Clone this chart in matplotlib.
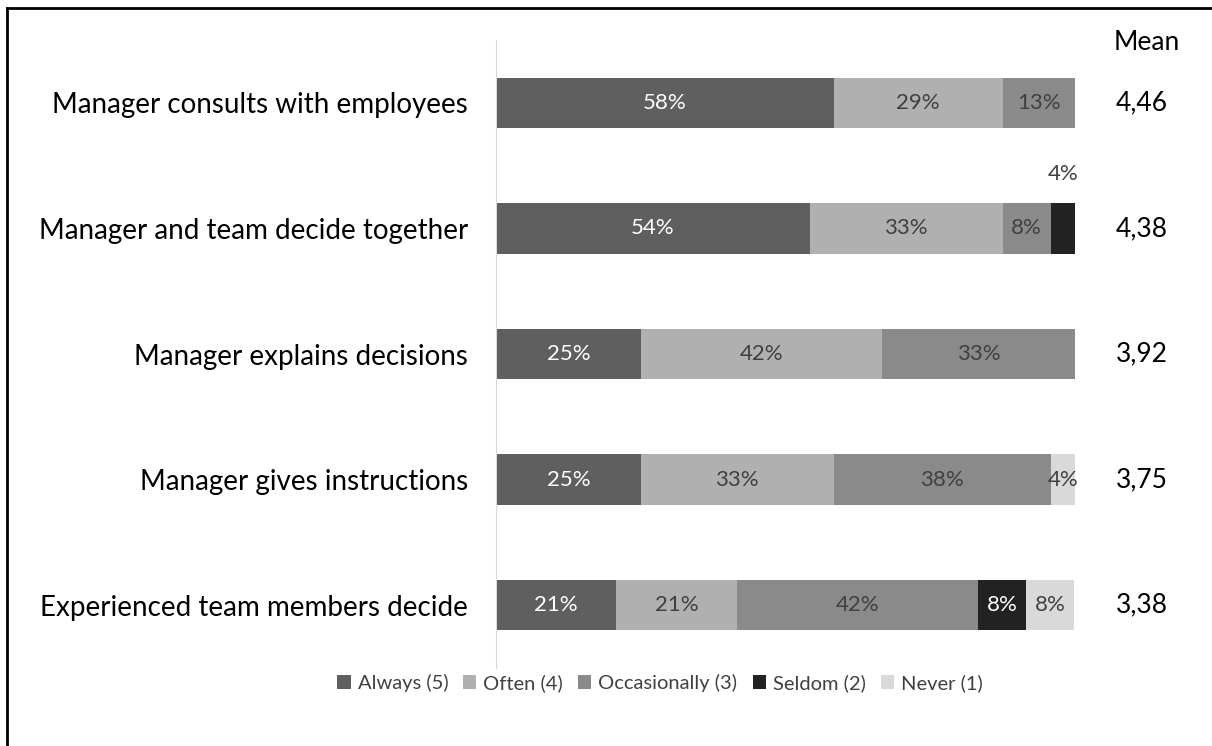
import numpy as np
import matplotlib as mpl

mpl.use('Agg')
import matplotlib.pyplot as plt
from matplotlib.lines import Line2D

plt.rcParams['font.family'] = ['Lato', 'DejaVu Sans']

# data
categories = ['Manager consults with employees',
              'Manager and team decide together',
              'Manager explains decisions',
              'Manager gives instructions',
              'Experienced team members decide']
series = ['Always (5)', 'Often (4)', 'Occasionally (3)', 'Seldom (2)', 'Never (1)']
always = [58.3, 54.2, 25.0, 25.0, 20.8]
often = [29.2, 33.3, 41.7, 33.3, 20.8]
occasionally = [12.5, 8.3, 33.3, 37.5, 41.7]
seldom = [0.0, 4.2, 0.0, 0.0, 8.3]
never = [0.0, 0.0, 0.0, 4.2, 8.3]
means = ['4,46', '4,38', '3,92', '3,75', '3,38']

colors = ['#5f5f5f', '#b0b0b0', '#8a8a8a', '#222222', '#d9d9d9']
text_colors = ['white', '#404040', '#404040', 'white', '#404040']

fig = plt.figure(figsize=(12.12, 7.46), dpi=100)
ax = fig.add_axes([496 / 1212, (746 - 668) / 746, (1075 - 496) / 1212, 628 / 746])

y = np.arange(len(categories))
left = np.zeros(len(categories))
for vals, name, col, tcol in zip([always, often, occasionally, seldom, never],
                                 series, colors, text_colors):
    vals = np.array(vals)
    ax.barh(y, vals, left=left, height=0.4, color=col, label=name)
    for i, v in enumerate(vals):
        if v <= 0:
            continue
        lbl = f'{int(v + 0.5)}%'
        if name == 'Seldom (2)' and i == 1:
            # small segment, label sits above the bar
            ax.text(left[i] + v / 2, i - 0.43, lbl, ha='center', va='center',
                    fontsize=16, color='#404040')
        else:
            ax.text(left[i] + v / 2, i, lbl, ha='center', va='center',
                    fontsize=16, color=tcol)
    left += vals

ax.set_xlim(0, 100)
ax.set_ylim(len(categories) - 0.5, -0.5)
ax.set_yticks(y)
ax.set_yticklabels(categories, fontsize=20)
ax.tick_params(axis='y', length=0, pad=20)
ax.set_xticks([])
for s in ['top', 'right', 'bottom']:
    ax.spines[s].set_visible(False)
ax.spines['left'].set_color('#d9d9d9')

# mean column
ax.text(1147 / 1212, (746 - 43) / 746, 'Mean', transform=fig.transFigure,
        ha='center', va='center', fontsize=19)
for i, m in enumerate(means):
    ax.text(1.115, i, m, transform=ax.get_yaxis_transform(),
            ha='center', va='center', fontsize=19)

fig.legend(loc='center', bbox_to_anchor=(660 / 1212, (746 - 683) / 746), ncol=5,
           frameon=False, fontsize=14.5, labelcolor='#404040', handlelength=0.65,
           handleheight=0.65, handletextpad=0.35, columnspacing=0.75)

# frame lines on left and top
fig.add_artist(Line2D([7 / 1212, 7 / 1212], [0, 1 - 8 / 746], color='black', lw=2,
                      transform=fig.transFigure))
fig.add_artist(Line2D([7 / 1212, 1], [1 - 8 / 746, 1 - 8 / 746], color='black', lw=2,
                      transform=fig.transFigure))

fig.savefig('out.png', dpi=100, facecolor='white')
